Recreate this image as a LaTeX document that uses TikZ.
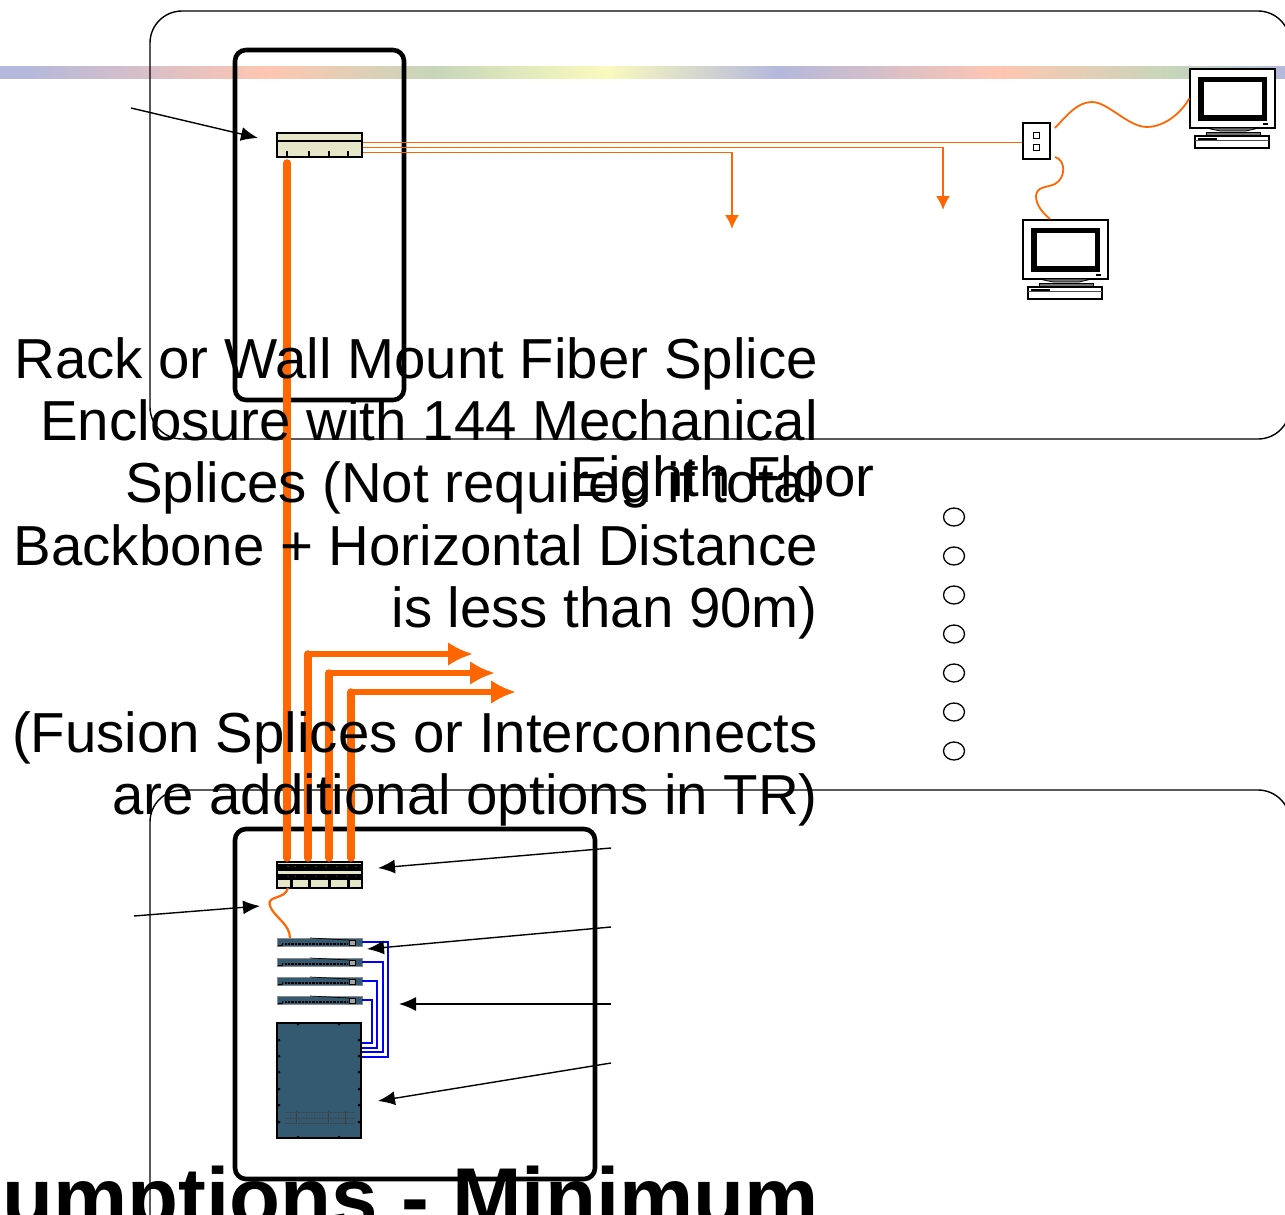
\documentclass[tikz,border=0pt]{standalone}
\usepackage{fontspec}
\setmainfont{Liberation Sans}
\usetikzlibrary{arrows.meta}
\usetikzlibrary{shapes.geometric}
\definecolor{CableOrange}{RGB}{255,102,0}
\definecolor{PanelBeige}{RGB}{230,230,200}
\definecolor{GearBlue}{RGB}{51,90,112}
\definecolor{BandBlue}{RGB}{180,184,220}
\definecolor{BandPink}{RGB}{255,198,178}
\definecolor{BandGreen}{RGB}{198,214,186}
\definecolor{BandYellow}{RGB}{250,250,190}
\tikzset{
	floorbox/.style={draw=black, line width=1.4pt, rounded corners=32pt},
	rackbox/.style={draw=black, line width=4.6pt, rounded corners=11pt},
	patchbox/.style={draw=black, line width=1.5pt, fill=PanelBeige},
	switchbox/.style={draw=black!45, line width=.8pt, fill=GearBlue},
	callout/.style={-{Latex[length=17pt,width=14pt]}, line width=1.4pt, draw=black},
	thincable/.style={draw=CableOrange, line width=1.8pt},
	droparrow/.style={thincable, -{Latex[length=14pt,width=14pt]}},
	trunk/.style={draw=CableOrange, line width=7.5pt, line cap=round},
	trunkarrow/.style={draw=CableOrange, line width=6.5pt, -{Latex[length=25pt,width=24pt]}},
	patchcord/.style={draw=blue, line width=1.8pt},
	bigtext/.style={font=\fontsize{56.4}{62.4}\selectfont, align=right, inner sep=0pt},
	dot/.style={draw=black, line width=1.3pt, ellipse, minimum width=21pt, minimum height=18pt, inner sep=0pt}
}
\newcommand{\pcunit}[3]{%
	\begin{scope}[shift={(#2,#3)}]
		\node[draw=black, line width=1.5pt, fill=white, minimum width=85pt, minimum height=59pt, inner sep=0pt] (#1) at (42.5,29.5) {};
		\fill[black] (8,8) rectangle (77,52);
		\fill[white] (14,13) rectangle (72,46);
		\fill[black] (73,54) rectangle (78,56);
		\filldraw[draw=black, fill=black!55, line width=.8pt] (16,59) -- (30,62) -- (56,62) -- (69,59) -- cycle;
		\filldraw[draw=black, fill=black!55, line width=.8pt] (16,63) rectangle (70,66);
		\draw[black, line width=1.4pt, fill=white] (5,67) rectangle (79,79);
		\draw[black!70, line width=.7pt] (5,71) -- (79,71);
		\fill[black] (8,69) rectangle (27,71);
	\end{scope}}
\newcommand{\switchunit}[2]{%
	\node[switchbox, minimum width=85pt, minimum height=8pt, inner sep=0pt] (#1) at (319.5,#2) {};
	\draw[black, line width=2pt, dash pattern=on 1pt off .4pt] (285,#2+1.5) -- (347,#2+1.5);
	\draw[black, line width=1pt] (278,#2+3.5) -- (282,#2+3.5) -- (283,#2+1);
	\draw[black, line width=.7pt] (310,#2-4) -- (349,#2-2);
	\draw[black, line width=.8pt, fill=black!35] (349,#2-2) rectangle (355,#2+3);}
\begin{document}
\begin{tikzpicture}[x=1pt, y=-1pt]
	\useasboundingbox (0,0) rectangle (1285,1215);
	% band
	\foreach \xa/\xb/\ca/\cb in {0/25/BandBlue/BandBlue, 25/270/BandBlue/BandPink, 270/434/BandPink/BandGreen, 434/606/BandGreen/BandYellow, 606/778/BandYellow/BandBlue, 778/1000/BandBlue/BandPink, 1000/1172/BandPink/BandGreen, 1172/1285/BandGreen/BandBlue}
		\shade[left color=\ca, right color=\cb, shading angle=90, draw=none] (\xa,67) rectangle (\xb,79);
	% floors
	\node[floorbox, minimum width=1140pt, minimum height=428pt, inner sep=0pt] (upperfloor) at (720,225) {};
	\node[floorbox, minimum width=1140pt, minimum height=470pt, inner sep=0pt] (lowerfloor) at (720,1025) {};
	% racks
	\node[rackbox, minimum width=169pt, minimum height=350pt, inner sep=0pt] (upperrack) at (319.5,225) {};
	\node[rackbox, minimum width=360pt, minimum height=350pt, inner sep=0pt] (lowerrack) at (415,1004) {};
	% splice enclosure
	\node[patchbox, minimum width=85pt, minimum height=24pt, inner sep=0pt] (upperpanel) at (319.5,145) {};
	\draw[black, line width=1.4pt] (277,141) -- (362,141);
	\foreach \x in {287,309,329,348}
		\draw[black, line width=2.6pt] (\x,150.5) -- (\x,157);
	% fiber panel
	\node[patchbox, minimum width=85pt, minimum height=26pt, inner sep=0pt] (lowerpanel) at (319.5,875) {};
	\fill[black] (278,864) rectangle (361,870.5);
	\fill[black] (278,873.5) rectangle (361,880);
	\foreach \x in {291,309,329,348}
		\draw[black, line width=3pt] (\x,880) -- (\x,888);
	\foreach \x in {288,295,305,316,326,337,347,356} {
		\fill[white!70!black] (\x,866.5) circle (.5pt);
		\fill[white!70!black] (\x,876) circle (.5pt);
	}
	% switches
	\switchunit{switchA}{942}
	\switchunit{switchB}{962}
	\switchunit{switchC}{981}
	\switchunit{switchD}{1000}
	% ups
	\node[draw=black, line width=1.5pt, fill=GearBlue, minimum width=84pt, minimum height=115pt, inner sep=0pt] (ups) at (319,1080.5) {};
	\foreach \x in {298,339} {
		\fill[black] (\x,1024) circle (1.5pt);
		\fill[black] (\x,1137) circle (1.5pt);
	}
	\foreach \y in {1040,1056,1072,1089,1105,1122} {
		\fill[black] (279,\y) circle (1.5pt);
		\fill[black] (359,\y) circle (1.5pt);
	}
	\draw[black!75, line width=.6pt, densely dotted] (285,1112) -- (354,1112) (285,1118) -- (354,1118) (285,1123) -- (354,1123);
	\foreach \x in {296,328,345}
		\draw[black!75, line width=.5pt] (\x,1111) -- (\x,1124);
	% patch cords
	\draw[patchcord] (switchA.east) -- (388,942) -- (388,1057) -- (ups.east |- 0,1057);
	\draw[patchcord] (switchB.east) -- (383,962) -- (383,1052) -- (ups.east |- 0,1052);
	\draw[patchcord] (switchC.east) -- (377,981) -- (377,1048) -- (ups.east |- 0,1048);
	\draw[patchcord] (switchD.east) -- (372,1000) -- (372,1043) -- (ups.east |- 0,1043);
	% trunks
	\draw[trunk] (287,858) -- (287,163);
	\coordinate (endA) at (473,654);
	\coordinate (endB) at (495,673);
	\coordinate (endC) at (516,692);
	\draw[trunk] (308,858) -- (308,654);
	\draw[trunk] (329,858) -- (329,673);
	\draw[trunk] (351,858) -- (351,692);
	\draw[trunkarrow] (308,654) -- (endA);
	\draw[trunkarrow] (329,673) -- (endB);
	\draw[trunkarrow] (351,692) -- (endC);
	% jumper
	\draw[draw=CableOrange, line width=2.2pt] (288,888) .. controls (285,900) and (266,895) .. (270,906) .. controls (274,917) and (290,924) .. (290,938);
	% wall plate and computers
	\node[draw=black, line width=1.4pt, fill=white, minimum width=27pt, minimum height=36pt, inner sep=0pt] (plate) at (1036.5,141) {};
	\draw[black, line width=1pt] (1033.5,132.5) rectangle (1039,138) (1033.5,144.5) rectangle (1039,150);
	\pcunit{pcA}{1190}{69}
	\pcunit{pcB}{1023}{220}
	\coordinate (dropA) at (732,229);
	\coordinate (dropB) at (943,210);
	\draw[thincable] (upperpanel.east |- 0,142.5) -- (plate.west |- 0,142.5);
	\draw[droparrow] (upperpanel.east |- 0,147.5) -- (943,147.5) -- (dropB);
	\draw[droparrow] (upperpanel.east |- 0,152.5) -- (732,152.5) -- (dropA);
	\coordinate (plateA) at (1055,128);
	\coordinate (plateB) at (1055,157);
	\draw[thincable] (plateA) .. controls (1068,114) and (1078,102) .. (1092,102) .. controls (1108,102) and (1128,127) .. (1147,127) .. controls (1160,127) and (1178,118) .. (pcA.west);
	\draw[thincable] (plateB) .. controls (1066,160) and (1066,178) .. (1055,184) .. controls (1046,188) and (1037,186) .. (1036,196) .. controls (1036,206) and (1044,214) .. (1050,219);
	% callouts
	\coordinate (noteA) at (131,108);
	\coordinate (noteB) at (134,916);
	\coordinate (noteC) at (611,848);
	\coordinate (noteD) at (611,927);
	\coordinate (noteE) at (611,1004);
	\coordinate (noteF) at (611,1063);
	\coordinate (tipA) at (258,138);
	\coordinate (tipB) at (260,906);
	\coordinate (tipC) at (378,868);
	\coordinate (tipD) at (367,949);
	\coordinate (tipE) at (399,1004);
	\coordinate (tipF) at (378,1101);
	\foreach \n in {A,B,C,D,E,F}
		\draw[callout] (note\n) -- (tip\n);
	% text
	\node[bigtext, anchor=north east] (splicetext) at (818,337) {Rack or Wall Mount Fiber Splice\\Enclosure with 144 Mechanical\\Splices (Not required if total\\Backbone + Horizontal Distance\\is less than 90m)\\\mbox{}\\(Fusion Splices or Interconnects\\are additional options in TR)};
	\node[bigtext, anchor=base east] (floortext) at (875,496) {Eighth Floor};
	\node[inner sep=0pt, anchor=base east, font=\fontsize{83.5}{90}\selectfont\bfseries] (titletext) at (819,1226) {umptions - Minimum};
	\foreach \i in {0,...,6}
		\node[dot] (dot\i) at (954,517+39*\i) {};
\end{tikzpicture}
\end{document}
